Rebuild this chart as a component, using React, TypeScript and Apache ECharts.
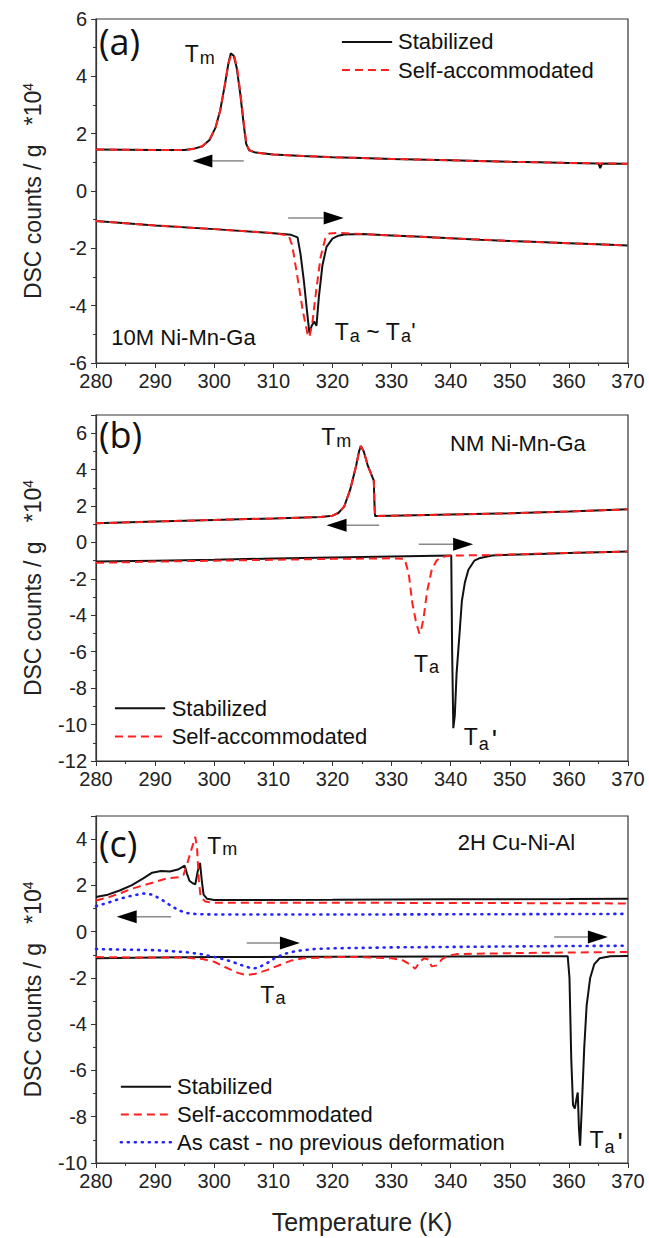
import React, { useEffect, useRef } from "react";
import * as echarts from "echarts";

type P = [number, number];

// ---------- Panel (a) 10M Ni-Mn-Ga ----------
const aCoolStab: P[] = [[280,1.45],[285,1.44],[290,1.43],[295,1.43],[296.5,1.47],[298,1.56],[299.2,1.78],[300.2,2.2],[301,2.8],[301.8,3.7],[302.4,4.45],[302.8,4.8],[303.3,4.72],[303.8,4.3],[304.4,3.4],[305,2.3],[305.4,1.65],[305.9,1.42],[307,1.34],[310,1.27],[315,1.22],[320,1.18],[325,1.15],[330,1.12],[340,1.07],[350,1.02],[355,1.0],[360,0.98],[365,0.96],[365.3,0.8],[365.6,0.96],[370,0.95]];
const aCoolSelf: P[] = [[280,1.45],[285,1.44],[290,1.43],[295,1.43],[296.5,1.47],[298,1.56],[299.2,1.78],[300.2,2.2],[301,2.8],[301.8,3.7],[302.4,4.45],[302.9,4.75],[303.4,4.7],[303.9,4.25],[304.5,3.3],[305.1,2.2],[305.5,1.6],[306,1.42],[307,1.34],[310,1.27],[315,1.22],[320,1.18],[325,1.15],[330,1.12],[340,1.07],[350,1.02],[360,0.98],[370,0.95]];
const aHeatStab: P[] = [[280,-1.05],[290,-1.2],[300,-1.33],[310,-1.47],[313,-1.53],[314.1,-1.62],[314.6,-2.2],[315.2,-3.2],[315.7,-4.2],[316.1,-4.95],[316.5,-4.7],[316.9,-4.55],[317.3,-4.7],[317.7,-3.7],[318.3,-2.6],[319,-1.95],[320,-1.66],[321,-1.56],[322,-1.52],[325,-1.5],[330,-1.55],[335,-1.6],[340,-1.65],[345,-1.7],[350,-1.74],[355,-1.78],[360,-1.82],[365,-1.86],[370,-1.9]];
const aHeatSelf: P[] = [[280,-1.05],[290,-1.2],[300,-1.33],[310,-1.47],[312.6,-1.55],[313.2,-1.9],[314,-2.9],[315,-4.2],[315.8,-5.0],[316.1,-5.1],[316.6,-4.6],[317.3,-3.4],[318,-2.3],[318.8,-1.65],[319.5,-1.48],[321,-1.46],[325,-1.5],[330,-1.55],[335,-1.6],[340,-1.65],[350,-1.74],[360,-1.82],[370,-1.9]];

// ---------- Panel (b) NM Ni-Mn-Ga ----------
const bCoolStab: P[] = [[280,1.05],[290,1.15],[300,1.24],[310,1.32],[318,1.4],[320,1.47],[321,1.62],[322,1.98],[323,2.9],[324,4.2],[324.5,5.0],[324.8,5.3],[325.3,5.0],[326,4.2],[327,3.4],[327.1,2.2],[327.2,1.45],[330,1.47],[340,1.53],[350,1.6],[360,1.7],[370,1.82]];
const bCoolSelf: P[] = [[280,1.05],[290,1.15],[300,1.24],[310,1.32],[318,1.4],[320,1.47],[321,1.62],[322,1.98],[323,2.9],[324,4.2],[324.5,5.0],[324.8,5.3],[325.3,5.0],[326,4.2],[327,3.4],[327.1,2.2],[327.2,1.45],[330,1.47],[340,1.53],[350,1.6],[360,1.7],[370,1.82]];
const bHeatStab: P[] = [[280,-1.05],[290,-1.0],[300,-0.95],[310,-0.88],[320,-0.82],[330,-0.77],[340.1,-0.72],[340.25,-6],[340.45,-10.2],[340.7,-9.5],[341,-7.2],[341.5,-5],[341.9,-3.2],[342.4,-2.2],[343,-1.5],[344,-1.0],[345,-0.85],[347,-0.72],[350,-0.68],[355,-0.63],[360,-0.58],[365,-0.54],[370,-0.5]];
const bHeatSelf: P[] = [[280,-1.12],[290,-1.05],[300,-1.0],[310,-0.95],[320,-0.9],[330,-0.87],[332.2,-0.9],[332.9,-1.7],[333.5,-3.3],[334.1,-4.3],[334.7,-5.0],[335.0,-4.8],[335.4,-4.2],[336,-2.7],[336.8,-1.5],[337.6,-1.0],[338.4,-0.8],[340,-0.72],[345,-0.7],[350,-0.66],[360,-0.57],[370,-0.5]];

// ---------- Panel (c) 2H Cu-Ni-Al ----------
const cCoolStab: P[] = [[280,1.5],[282,1.6],[284,1.78],[286,2.0],[288,2.3],[289.5,2.55],[291,2.62],[292.5,2.6],[294,2.7],[295,2.85],[295.4,2.5],[295.8,2.2],[296.3,2.1],[296.8,2.05],[297.2,2.6],[297.6,2.97],[297.9,2.2],[298.2,1.6],[298.8,1.42],[300,1.37],[320,1.38],[340,1.4],[360,1.41],[370,1.42]];
const cCoolSelf: P[] = [[280,1.35],[282,1.48],[284,1.65],[286,1.85],[288,2.0],[290,2.15],[292,2.3],[294,2.35],[294.8,2.45],[295.5,3.0],[296.2,3.6],[296.8,4.1],[297.1,3.6],[297.4,2.2],[297.7,1.5],[298.5,1.3],[300,1.25],[320,1.25],[340,1.24],[360,1.23],[370,1.22]];
const cCoolCast: P[] = [[280,1.1],[282,1.25],[284,1.42],[286,1.55],[288,1.65],[289.5,1.6],[291,1.4],[292.5,1.15],[294,0.92],[295.5,0.8],[297,0.76],[300,0.74],[320,0.74],[340,0.75],[360,0.76],[370,0.77]];
const cHeatStab: P[] = [[280,-1.15],[290,-1.12],[300,-1.1],[320,-1.08],[340,-1.07],[359.8,-1.06],[360.1,-2],[360.4,-5.5],[360.7,-7.5],[361,-7.65],[361.3,-7.2],[361.5,-6.95],[361.7,-8.5],[361.9,-9.25],[362.2,-7.5],[362.6,-5],[363,-3.2],[363.6,-2.0],[364.3,-1.4],[365.2,-1.15],[367,-1.06],[370,-1.05]];
const cHeatSelf: P[] = [[280,-1.1],[290,-1.12],[295,-1.12],[298,-1.18],[300,-1.3],[302,-1.55],[304,-1.78],[305.5,-1.88],[307,-1.82],[309,-1.65],[311,-1.45],[313,-1.25],[315,-1.15],[320,-1.1],[325,-1.1],[330,-1.15],[332,-1.25],[333,-1.4],[334,-1.6],[334.8,-1.3],[335.5,-1.15],[336.2,-1.2],[336.8,-1.5],[337.8,-1.45],[338.5,-1.2],[339.5,-1.05],[341,-0.97],[350,-0.93],[360,-0.9],[370,-0.88]];
const cHeatCast: P[] = [[280,-0.75],[285,-0.78],[290,-0.8],[295,-0.88],[298,-0.98],[301,-1.15],[303,-1.3],[305,-1.48],[306.5,-1.6],[307.5,-1.55],[309,-1.35],[310.5,-1.1],[312,-0.95],[314,-0.83],[317,-0.75],[320,-0.72],[330,-0.68],[340,-0.66],[350,-0.64],[360,-0.62],[370,-0.61]];

// ---------- axes ----------
const X_MIN = 280, X_MAX = 370, X_STEP = 10;
const Y_RANGES: [number, number][] = [[-6, 6], [-12, 7], [-10, 5]];
const Y_STEP = 2;

// ---------- annotations (data units) ----------
const PANEL_TAGS = [
  { g: 0, text: "(a)", x: 280.5, y: 5.2 },
  { g: 1, text: "(b)", x: 280.5, y: 5.95 },
  { g: 2, text: "(c)", x: 280.5, y: 3.8 },
];
const NOTES = [
  { g: 0, text: "{t|T}{s|m}", x: 295.0, y: 4.75 },
  { g: 0, text: "{n|10M Ni-Mn-Ga}", x: 282.6, y: -5.1 },
  { g: 0, text: "{t|T}{s|a}{t| ~ T}{s|a}{t|'}", x: 320.4, y: -4.95 },
  { g: 1, text: "{t|T}{s|m}", x: 318.1, y: 5.75 },
  { g: 1, text: "{n|NM Ni-Mn-Ga}", x: 339.9, y: 5.45 },
  { g: 1, text: "{t|T}{s|a}", x: 333.8, y: -6.7 },
  { g: 1, text: "{t|T}{s|a}{p|'}", x: 342.2, y: -10.8 },
  { g: 2, text: "{t|T}{s|m}", x: 298.8, y: 3.7 },
  { g: 2, text: "{n|2H Cu-Ni-Al}", x: 341.2, y: 3.85 },
  { g: 2, text: "{t|T}{s|a}", x: 307.8, y: -2.75 },
  { g: 2, text: "{t|T}{s|a}{p|'}", x: 363.5, y: -9.1 },
];
const ARROWS = [
  { g: 0, from: [305.0, 1.05], to: [296.3, 1.05] },
  { g: 0, from: [312.5, -0.94], to: [321.9, -0.94] },
  { g: 1, from: [327.9, 0.95], to: [319.0, 0.95] },
  { g: 1, from: [334.6, -0.1], to: [343.8, -0.1] },
  { g: 2, from: [292.7, 0.64], to: [283.5, 0.64] },
  { g: 2, from: [305.5, -0.49], to: [314.5, -0.49] },
  { g: 2, from: [357.5, -0.23], to: [366.6, -0.23] },
];
const LEGEND_NAMES = ["Stabilized", "Self-accommodated", "As cast - no previous deformation"];
const LEGENDS = [
  { g: 0, x1: 321.6, x2: 330.1, tx: 331.1, ys: [5.2, 4.22] },
  { g: 1, x1: 283.2, x2: 291.7, tx: 292.8, ys: [-9.1, -10.65] },
  { g: 2, x1: 284.2, x2: 292.7, tx: 293.7, ys: [-6.7, -7.9, -9.1] },
];

const COLORS = ["#111111", "#ff1f1f", "#2323ff"];
const FONT = "Liberation Sans, Arial, sans-serif";
const STYLES: any[] = [
  { color: COLORS[0], width: 2, type: "solid" },
  { color: COLORS[1], width: 2, type: [8, 5] },
  { color: COLORS[2], width: 2.6, type: [1, 6], cap: "round" },
];

const GRIDS = [
  { left: 96, right: 21, top: 19, height: 344 },
  { left: 96, right: 21, top: 415, height: 346 },
  { left: 96, right: 21, top: 816, height: 347 },
];

function mkSeries(data: P[], g: number, kind: number) {
  return {
    type: "line",
    name: LEGEND_NAMES[kind],
    data,
    xAxisIndex: g,
    yAxisIndex: g,
    showSymbol: false,
    symbol: "none",
    lineStyle: STYLES[kind],
    z: 2 + kind,
    silent: true,
  };
}

export default function App() {
  const ref = useRef<HTMLDivElement>(null);
  useEffect(() => {
    document.body.style.margin = "0";
    const chart = echarts.init(ref.current!, null, { renderer: "svg" });
    const series = [
      mkSeries(aCoolStab, 0, 0), mkSeries(aHeatStab, 0, 0),
      mkSeries(aCoolSelf, 0, 1), mkSeries(aHeatSelf, 0, 1),
      mkSeries(bCoolStab, 1, 0), mkSeries(bHeatStab, 1, 0),
      mkSeries(bCoolSelf, 1, 1), mkSeries(bHeatSelf, 1, 1),
      mkSeries(cCoolStab, 2, 0), mkSeries(cHeatStab, 2, 0),
      mkSeries(cCoolSelf, 2, 1), mkSeries(cHeatSelf, 2, 1),
      mkSeries(cCoolCast, 2, 2), mkSeries(cHeatCast, 2, 2),
    ];
    const axisLine = { show: true, onZero: false, lineStyle: { color: "#333", width: 1.2 } };
    const option: any = {
      animation: false,
      backgroundColor: "#fff",
      grid: GRIDS.map((g) => ({ ...g, show: true, borderColor: "#333", borderWidth: 1.2, backgroundColor: "transparent" })),
      xAxis: GRIDS.map((_, i) => ({
        type: "value",
        gridIndex: i,
        min: X_MIN,
        max: X_MAX,
        interval: X_STEP,
        axisLine,
        axisTick: { show: true, length: 5, lineStyle: { color: "#333" } },
        minorTick: { show: true, splitNumber: 2, length: 3, lineStyle: { color: "#333" } },
        splitLine: { show: false },
        axisLabel: { fontSize: 20, color: "#222", fontFamily: FONT, margin: 8 },
        name: i === 2 ? "Temperature (K)" : "",
        nameLocation: "middle",
        nameGap: 46,
        nameTextStyle: { fontSize: 25, color: "#222", fontFamily: FONT },
      })),
      yAxis: Y_RANGES.map((r, i) => ({
        type: "value",
        gridIndex: i,
        min: r[0],
        max: r[1],
        interval: Y_STEP,
        axisLine,
        axisTick: { show: true, length: 5, lineStyle: { color: "#333" } },
        minorTick: { show: true, splitNumber: 2, length: 3, lineStyle: { color: "#333" } },
        splitLine: { show: false },
        axisLabel: { fontSize: 20, color: "#222", fontFamily: FONT, margin: 9, showMaxLabel: r[1] % 2 === 0 },
        name: "DSC counts / g   *10{sup|4}",
        nameLocation: "middle",
        nameGap: 51,
        nameRotate: 90,
        nameTextStyle: {
          fontSize: 23,
          color: "#222",
          fontFamily: FONT,
          rich: { sup: { fontSize: 14, color: "#222", fontFamily: FONT, verticalAlign: "top", padding: [0, 0, 10, 0] } },
        },
      })),
      series,
    };
    chart.setOption(option);

    const px = (g: number, x: number, y: number) => chart.convertToPixel({ gridIndex: g } as any, [x, y]) as number[];
    const graphics: any[] = [];
    PANEL_TAGS.forEach((t) => {
      const [x, y] = px(t.g, t.x, t.y);
      graphics.push({ type: "text", x, y, z: 10, style: { text: t.text, font: "36px 'Open Sans', 'DejaVu Sans', sans-serif", fill: "#111", verticalAlign: "middle", align: "left" } });
    });
    const rich = {
      t: { fontSize: 23, fontFamily: FONT, fill: "#111", color: "#111", lineHeight: 24, verticalAlign: "top" },
      s: { fontSize: 18, fontFamily: FONT, fill: "#111", color: "#111", lineHeight: 18, verticalAlign: "bottom", padding: [13, 0, 0, 1] },
      p: { fontSize: 28, fontFamily: FONT, fill: "#111", color: "#111", lineHeight: 28, verticalAlign: "top", padding: [0, 0, 0, 3] },
      n: { fontSize: 22, fontFamily: FONT, fill: "#111", color: "#111", lineHeight: 24 },
    };
    NOTES.forEach((n) => {
      const [x, y] = px(n.g, n.x, n.y);
      graphics.push({ type: "text", x, y, z: 10, style: { text: n.text, rich, verticalAlign: "middle", align: "left" } });
    });
    ARROWS.forEach((a) => {
      const [x0, y0] = px(a.g, a.from[0], a.from[1]);
      const [x1, y1] = px(a.g, a.to[0], a.to[1]);
      const dx = x1 - x0, dy = y1 - y0;
      const L = Math.hypot(dx, dy);
      const ux = dx / L, uy = dy / L;
      const head = 20, hw = 6.5;
      const bx = x1 - ux * head, by = y1 - uy * head;
      graphics.push({ type: "line", z: 10, shape: { x1: x0, y1: y0, x2: bx, y2: by }, style: { stroke: "#8a8a8a", lineWidth: 1.5 } });
      graphics.push({
        type: "polygon", z: 10,
        shape: { points: [[x1, y1], [bx - uy * hw, by + ux * hw], [bx + uy * hw, by - ux * hw]] },
        style: { fill: "#000" },
      });
    });
    LEGENDS.forEach((lg) => {
      lg.ys.forEach((yv, k) => {
        const [xa, ya] = px(lg.g, lg.x1, yv);
        const [xb] = px(lg.g, lg.x2, yv);
        const [xt] = px(lg.g, lg.tx, yv);
        const st = STYLES[k];
        graphics.push({
          type: "line", z: 10,
          shape: { x1: xa, y1: ya, x2: xb, y2: ya },
          style: { stroke: st.color, lineWidth: st.width, lineDash: st.type === "solid" ? null : st.type, lineCap: st.cap || "butt" },
        });
        graphics.push({
          type: "text", z: 10, x: xt, y: ya,
          style: { text: LEGEND_NAMES[k], font: `22px ${FONT}`, fill: "#111", verticalAlign: "middle", align: "left" },
        });
      });
    });
    chart.setOption({ graphic: graphics });
    return () => chart.dispose();
  }, []);
  return <div ref={ref} style={{ width: 649, height: 1238 }} />;
}
